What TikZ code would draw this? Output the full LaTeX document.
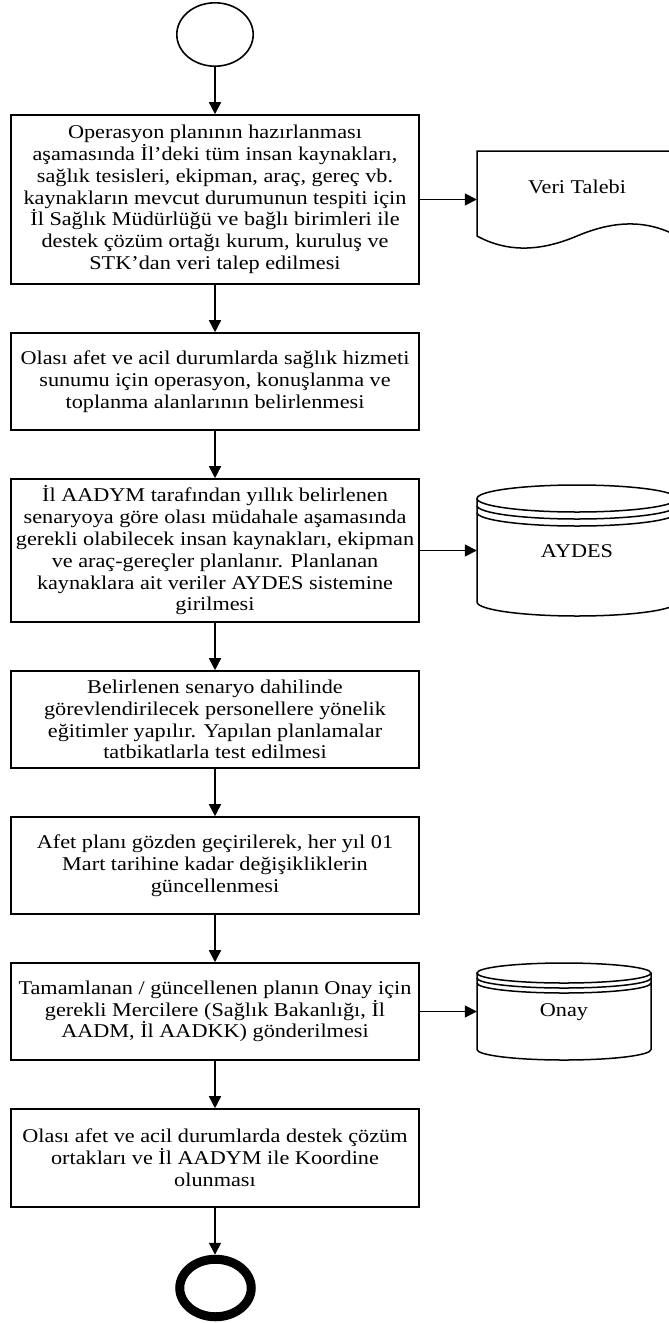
\documentclass[tikz,border=0pt]{standalone}
\usepackage{fontspec}
\setmainfont{Liberation Serif}[FakeStretch=1.14]
\usetikzlibrary{arrows.meta,shapes.geometric}
\begin{document}
\begin{tikzpicture}[x=1pt,y=-1pt,
  font=\fontsize{19.5}{21.8}\selectfont,
  proc/.style={draw, line width=1.6pt, minimum width=408pt, align=center, inner sep=0pt},
  flow/.style={line width=1.6pt, -{Triangle[length=12pt,width=12pt]}},
  shapeline/.style={line width=1.5pt},
  lbl/.style={inner sep=0pt, align=center}]
\useasboundingbox (0,0) rectangle (669,1323);
\clip (0,0) rectangle (669,1323);

% start / end
\node[draw, ellipse, line width=1.6pt, minimum width=76.4pt, minimum height=63.4pt, inner sep=0pt] (start) at (215,34.5) {};
\node[draw, ellipse, line width=9pt, minimum width=71.5pt, minimum height=57.5pt, inner sep=0pt] (stop) at (215.5,1288) {};

% process boxes
\node[proc, minimum height=169pt] (b1) at (215,199.5) {Operasyon planının hazırlanması\\aşamasında İl’deki tüm insan kaynakları,\\sağlık tesisleri, ekipman, araç, gereç vb.\\kaynakların mevcut durumunun tespiti için\\İl Sağlık Müdürlüğü ve bağlı birimleri ile\\destek çözüm ortağı kurum, kuruluş ve\\STK’dan veri talep edilmesi};
\node[proc, minimum height=97pt] (b2) at (215,381.5) {Olası afet ve acil durumlarda sağlık hizmeti\\sunumu için operasyon, konuşlanma ve\\toplanma alanlarının belirlenmesi};
\node[proc, minimum height=143pt] (b3) at (215,550.5) {İl AADYM tarafından yıllık belirlenen\\senaryoya göre olası müdahale aşamasında\\gerekli olabilecek insan kaynakları, ekipman\\ve araç-gereçler planlanır. Planlanan\\kaynaklara ait veriler AYDES sistemine\\girilmesi};
\node[proc, minimum height=97pt] (b4) at (215,719.5) {Belirlenen senaryo dahilinde\\görevlendirilecek personellere yönelik\\eğitimler yapılır. Yapılan planlamalar\\tatbikatlarla test edilmesi};
\node[proc, minimum height=97pt] (b5) at (215,865.5) {Afet planı gözden geçirilerek, her yıl 01\\Mart tarihine kadar değişikliklerin\\güncellenmesi};
\node[proc, minimum height=97pt] (b6) at (215,1011.5) {Tamamlanan / güncellenen planın Onay için\\gerekli Mercilere (Sağlık Bakanlığı, İl\\AADM, İl AADKK) gönderilmesi};
\node[proc, minimum height=98pt] (b7) at (215,1158) {Olası afet ve acil durumlarda destek çözüm\\ortakları ve İl AADYM ile Koordine\\olunması};

% document shape: Veri Talebi
\draw[shapeline] (477,236) -- (477,151) -- (677,151) -- (677,236)
  .. controls (644,218) and (610,222) .. (577,236)
  .. controls (544,250) and (510,254) .. (477,236) -- cycle;
\node[lbl, minimum width=200pt, minimum height=85pt] (vt) at (577,193.5) {};
\node[lbl] (vtt) at (577,187) {Veri Talebi};

% cylinder: AYDES
\draw[shapeline] (477,498.5) -- (477,602) arc[start angle=180, end angle=360, x radius=100pt, y radius=14pt] -- (677,498.5);
\draw[shapeline] (577,498.5) ellipse [x radius=100pt, y radius=13.5pt];
\draw[shapeline] (477,505.5) arc[start angle=180, end angle=360, x radius=100pt, y radius=13.5pt];
\draw[shapeline] (477,512.5) arc[start angle=180, end angle=360, x radius=100pt, y radius=13.5pt];
\node[lbl, minimum width=200pt, minimum height=100pt] (aydes) at (577,551) {AYDES};

% cylinder: Onay
\draw[shapeline] (477,973) -- (477,1049.5) arc[start angle=180, end angle=360, x radius=87pt, y radius=10.5pt] -- (651,973);
\draw[shapeline] (564,973) ellipse [x radius=87pt, y radius=10pt];
\draw[shapeline] (477,978) arc[start angle=180, end angle=360, x radius=87pt, y radius=10pt];
\draw[shapeline] (477,983) arc[start angle=180, end angle=360, x radius=87pt, y radius=10pt];
\node[lbl, minimum width=174pt, minimum height=70pt] (onay) at (564,1012) {Onay};

% connectors
\draw[flow] (start.south) -- (b1.north);
\draw[flow] (b1.south) -- (b2.north);
\draw[flow] (b2.south) -- (b3.north);
\draw[flow] (b3.south) -- (b4.north);
\draw[flow] (b4.south) -- (b5.north);
\draw[flow] (b5.south) -- (b6.north);
\draw[flow] (b6.south) -- (b7.north);
\draw[flow] (b7.south) -- (b7.south |- stop.north);
\draw[flow] (b1.east) -- (b1.east -| vt.west);
\draw[flow] (b3.east) -- (b3.east -| aydes.west);
\draw[flow] (b6.east) -- (b6.east -| onay.west);
\end{tikzpicture}
\end{document}
